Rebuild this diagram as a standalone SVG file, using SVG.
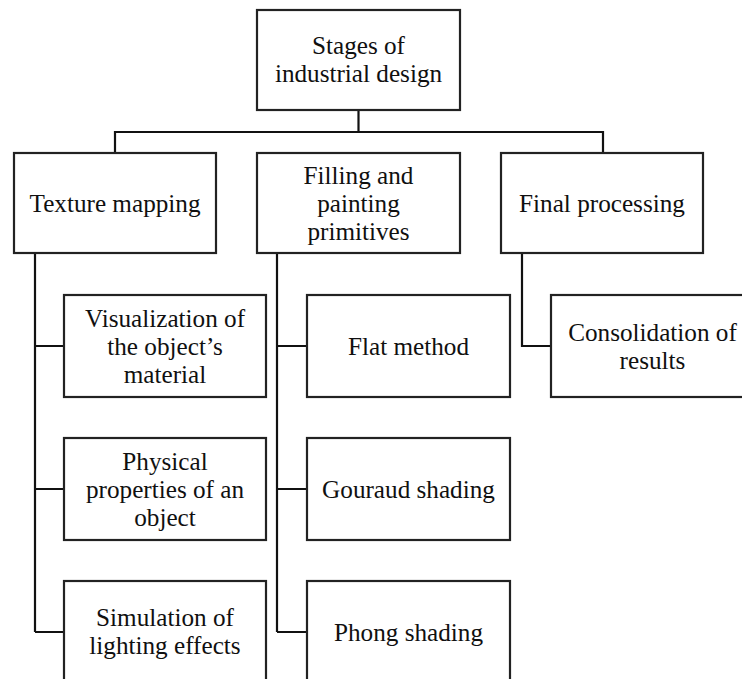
<svg xmlns="http://www.w3.org/2000/svg" width="742" height="679" viewBox="0 0 742 679">
<style>
.box{fill:#fff;stroke:#222;stroke-width:2.2}
.ln{fill:none;stroke:#111;stroke-width:2.2}
text{font-family:"Liberation Serif","Times New Roman",serif;font-size:25.2px;fill:#101010;text-anchor:middle}
</style>
<rect width="742" height="679" fill="#fff"/>
<g id="connectors">
<path class="ln" d="M358.5 110V132M115 153V132H603V153"/>
<path class="ln" d="M35 253V632M35 346H64M35 489H64M35 632H64"/>
<path class="ln" d="M277 253V632M277 346H307M277 489H307M277 632H307"/>
<path class="ln" d="M522 253V346H551"/>
</g>
<g id="root"><rect class="box" x="257" y="10" width="203" height="100"/><text x="358.5" y="54">Stages of</text><text x="358.5" y="82">industrial design</text></g>
<g id="texture"><rect class="box" x="14" y="153" width="202" height="100"/><text x="115" y="212">Texture mapping</text></g>
<g id="filling"><rect class="box" x="257" y="153" width="203" height="100"/><text x="358.5" y="184">Filling and</text><text x="358.5" y="212">painting</text><text x="358.5" y="240">primitives</text></g>
<g id="final"><rect class="box" x="501" y="153" width="202" height="100"/><text x="602" y="212">Final processing</text></g>
<g id="visual"><rect class="box" x="64" y="295" width="202" height="102"/><text x="165" y="327">Visualization of</text><text x="165" y="355">the object’s</text><text x="165" y="383">material</text></g>
<g id="physical"><rect class="box" x="64" y="438" width="202" height="102"/><text x="165" y="470">Physical</text><text x="165" y="498">properties of an</text><text x="165" y="526">object</text></g>
<g id="simulation"><rect class="box" x="64" y="581" width="202" height="110"/><text x="165" y="626">Simulation of</text><text x="165" y="654">lighting effects</text></g>
<g id="flat"><rect class="box" x="307" y="295" width="203" height="102"/><text x="408.5" y="355">Flat method</text></g>
<g id="gouraud"><rect class="box" x="307" y="438" width="203" height="102"/><text x="408.5" y="498">Gouraud shading</text></g>
<g id="phong"><rect class="box" x="307" y="581" width="203" height="110"/><text x="408.5" y="641">Phong shading</text></g>
<g id="consolidation"><rect class="box" x="551" y="295" width="203" height="102"/><text x="652.5" y="341">Consolidation of</text><text x="652.5" y="369">results</text></g>
</svg>
